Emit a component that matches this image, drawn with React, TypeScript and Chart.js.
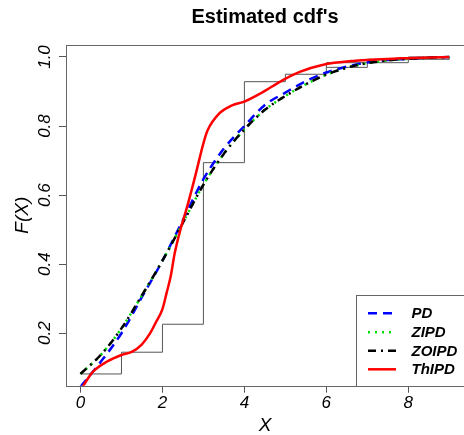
import React, { useEffect, useRef } from "react";
import { Chart, registerables } from "chart.js";

Chart.register(...registerables);

const titleText = "Estimated cdf's";
const xLabel = "X";
const yLabel = "F(X)";
const xTicks = [0, 2, 4, 6, 8];
const yTicks = [0.2, 0.4, 0.6, 0.8, 1.0];

// empirical step function
const stepX = [0, 1, 2, 3, 4, 5, 6, 7, 8, 9];
const stepF = [0.082, 0.145, 0.226, 0.694, 0.9285, 0.95, 0.97, 0.9835, 0.9933, 1.0];
const stepX2 = [6, 7, 8, 9];
const stepF2 = [0.97, 0.9835, 0.9933, 1.0];

// fitted cdfs
const gridX = [0, 0.5, 1, 1.5, 2, 2.5, 3, 3.5, 4, 4.5, 5, 5.5, 6, 6.5, 7, 7.5, 8, 8.5, 9];
const pdF = [0.045, 0.118, 0.2, 0.305, 0.41, 0.528, 0.646, 0.735, 0.8, 0.861, 0.897, 0.93, 0.955, 0.972, 0.984, 0.991, 0.995, 0.998, 1.0];
const zipdF = [0.082, 0.138, 0.214, 0.31, 0.41, 0.52, 0.63, 0.72, 0.79, 0.847, 0.887, 0.921, 0.949, 0.969, 0.982, 0.99, 0.995, 0.998, 1.0];
const zoipdF = [0.082, 0.138, 0.214, 0.31, 0.41, 0.52, 0.63, 0.72, 0.79, 0.847, 0.887, 0.921, 0.949, 0.969, 0.982, 0.99, 0.995, 0.998, 1.0];
const thX = [0, 0.3, 0.65, 1.0, 1.25, 1.5, 1.7, 1.85, 2.0, 2.1, 2.2, 2.3, 2.45, 2.6, 2.8, 3.0, 3.1, 3.4, 3.7, 4.0, 4.4, 4.95, 5.35, 5.9, 6.7, 7.8, 9];
const thF = [0.035, 0.088, 0.118, 0.137, 0.146, 0.168, 0.2, 0.234, 0.27, 0.316, 0.364, 0.432, 0.505, 0.565, 0.655, 0.75, 0.787, 0.838, 0.86, 0.871, 0.895, 0.934, 0.957, 0.977, 0.989, 0.996, 1.0];

const seriesNames = ["PD", "ZIPD", "ZOIPD", "ThIPD"];
const seriesColors = ["#0000ff", "#00e000", "#000000", "#ff0000"];
const seriesDash = [[9, 6], [2, 5], [8, 5, 2, 5], []];

const FONT = "'Liberation Sans', Arial, sans-serif";

const pts = (xs: number[], ys: number[]) => xs.map((x, i) => ({ x, y: ys[i] }));

const decorPlugin = {
  id: "decor",
  afterDraw(chart: any) {
    const { ctx, chartArea: a, scales } = chart;
    const xs = scales.x;
    const ys = scales.y;
    ctx.save();
    // frame
    ctx.strokeStyle = "#666";
    ctx.lineWidth = 1;
    ctx.strokeRect(Math.round(a.left) + 0.5, Math.round(a.top) + 0.5, Math.round(a.right - a.left), Math.round(a.bottom - a.top));
    ctx.fillStyle = "#000";
    // title
    ctx.font = `bold 20px ${FONT}`;
    ctx.textAlign = "center";
    ctx.textBaseline = "alphabetic";
    ctx.fillText(titleText, (a.left + a.right) / 2, 23);
    // x tick labels
    ctx.font = `italic 17px ${FONT}`;
    xTicks.forEach((v) => {
      ctx.fillText(String(v), xs.getPixelForValue(v), 408);
    });
    // y tick labels (rotated)
    yTicks.forEach((v) => {
      ctx.save();
      ctx.translate(50, ys.getPixelForValue(v));
      ctx.rotate(-Math.PI / 2);
      ctx.fillText(v.toFixed(1), 0, 0);
      ctx.restore();
    });
    // axis titles
    ctx.font = `italic 19px ${FONT}`;
    ctx.fillText(xLabel, (a.left + a.right) / 2, 431);
    ctx.save();
    ctx.translate(28, (a.top + a.bottom) / 2);
    ctx.rotate(-Math.PI / 2);
    ctx.fillText(yLabel, 0, 0);
    ctx.restore();
    // legend
    const lx = 356;
    const ly = 295;
    ctx.fillStyle = "#fff";
    ctx.fillRect(lx + 0.5, ly + 0.5, chart.width - lx, a.bottom - ly);
    ctx.strokeStyle = "#666";
    ctx.lineWidth = 1;
    ctx.strokeRect(lx + 0.5, ly + 0.5, chart.width - lx + 5, Math.round(a.bottom - ly));
    const rows = [313.3, 332.3, 350.7, 369.3];
    ctx.font = `bold italic 15px ${FONT}`;
    ctx.textAlign = "left";
    ctx.textBaseline = "middle";
    seriesNames.forEach((name, i) => {
      ctx.strokeStyle = seriesColors[i];
      ctx.lineWidth = 2.5;
      ctx.setLineDash(seriesDash[i]);
      ctx.beginPath();
      ctx.moveTo(368, rows[i]);
      ctx.lineTo(396, rows[i]);
      ctx.stroke();
      ctx.setLineDash([]);
      ctx.fillStyle = "#000";
      ctx.fillText(name, 411.5, rows[i] + 1);
    });
    ctx.restore();
  },
};

export default function App() {
  const ref = useRef<HTMLCanvasElement | null>(null);
  useEffect(() => {
    if (!ref.current) return;
    const curve = (i: number, data: any[]) => ({
      label: seriesNames[i],
      data,
      borderColor: seriesColors[i],
      borderDash: seriesDash[i],
      borderWidth: 2.5,
      pointRadius: 0,
      fill: false,
      cubicInterpolationMode: "monotone" as const,
    });
    const chart = new Chart(ref.current, {
      type: "line",
      data: {
        datasets: [
          curve(3, pts(thX, thF)),
          curve(2, pts(gridX, zoipdF)),
          curve(1, pts(gridX, zipdF)),
          curve(0, pts(gridX, pdF)),
          {
            label: "ecdf",
            data: pts(stepX, stepF),
            borderColor: "#555",
            borderWidth: 1,
            pointRadius: 0,
            stepped: "before",
            fill: false,
          },
          {
            label: "ecdf2",
            data: pts(stepX2, stepF2),
            borderColor: "#555",
            borderWidth: 1,
            pointRadius: 0,
            stepped: "after",
            fill: false,
          },
        ],
      },
      options: {
        responsive: false,
        animation: false,
        devicePixelRatio: 1,
        layout: { padding: { top: 44.7, right: 0, left: 0, bottom: 0 } },
        plugins: { legend: { display: false }, tooltip: { enabled: false }, title: { display: false } },
        scales: {
          x: {
            type: "linear",
            min: -0.354,
            max: 9.36,
            afterBuildTicks: (s: any) => {
              s.ticks = xTicks.map((v) => ({ value: v }));
            },
            afterFit: (s: any) => {
              s.height = 435 - 385.7;
            },
            ticks: { display: false },
            grid: { drawOnChartArea: false, drawTicks: true, tickLength: 7, color: "#555", lineWidth: 1 },
            border: { display: false },
          },
          y: {
            type: "linear",
            min: 0.048,
            max: 1.0356,
            afterBuildTicks: (s: any) => {
              s.ticks = yTicks.map((v) => ({ value: v }));
            },
            afterFit: (s: any) => {
              s.width = 66;
            },
            ticks: { display: false },
            grid: { drawOnChartArea: false, drawTicks: true, tickLength: 7, color: "#555", lineWidth: 1 },
            border: { display: false },
          },
        },
      },
      plugins: [decorPlugin],
    });
    return () => chart.destroy();
  }, []);
  return (
    <div style={{ position: "fixed", left: 0, top: 0, width: 464, height: 435, background: "#fff" }}>
      <canvas ref={ref} width={464} height={435} style={{ display: "block" }} />
    </div>
  );
}
